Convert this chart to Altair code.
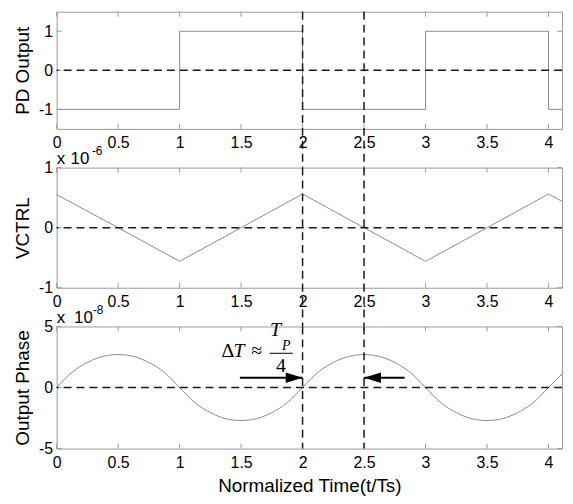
import altair as alt
import pandas as pd

# ---------------- data ----------------
# PD output: step values (step-after)
t_pd = [0, 1, 2, 3, 4, 4.11]
pd_out = [-1, 1, -1, 1, -1, -1]

# VCTRL (units of 1e-6)
t_vc = [0, 0.5, 1, 1.5, 2, 2.5, 3, 3.5, 4, 4.11]
vctrl_e6 = [0.55, 0.0, -0.56, 0.0, 0.56, 0.0, -0.56, 0.0, 0.56, 0.44]

# Output phase (units of 1e-8)
t_ph = [0, 0.125, 0.25, 0.375, 0.5, 0.625, 0.75, 0.875,
        1, 1.125, 1.25, 1.375, 1.5, 1.625, 1.75, 1.875,
        2, 2.125, 2.25, 2.375, 2.5, 2.625, 2.75, 2.875,
        3, 3.125, 3.25, 3.375, 3.5, 3.625, 3.75, 3.875,
        4, 4.11]
phase_e8 = [0, 1.25, 2.05, 2.55, 2.7, 2.55, 2.05, 1.25,
            0, -1.25, -2.05, -2.55, -2.7, -2.55, -2.05, -1.25,
            0, 1.25, 2.05, 2.55, 2.7, 2.55, 2.05, 1.25,
            0, -1.25, -2.05, -2.55, -2.7, -2.55, -2.05, -1.25,
            0, 1.1]

x_ticks = [0, 0.5, 1, 1.5, 2, 2.5, 3, 3.5, 4]
marker_t = [2, 2.5]

# arrows in the bottom panel (units of 1e-8)
arrow_x0 = [1.49, 2.83]
arrow_x1 = [2.0, 2.5]
arrow_y = [0.8, 0.8]

# ---------------- style ----------------
W = 509
H1, H2, H3 = 118, 121, 123
SP = 39
FONT = "Liberation Sans"
SERIF = "Liberation Serif"
GRAY = "#8a8a8a"
BOX = "#9a9a9a"
DASH = [8, 5]
XDOM = [0, 4.11]


def xaxis(title=None):
    kw = dict(values=x_ticks, labelExpr="'' + datum.value", ticks=False, domain=False,
              grid=False, labelPadding=6, labelFont=FONT, labelFontSize=16,
              labelColor="#000", labelFlush=False, labelOverlap=False)
    if title:
        kw.update(title=title, titleFont=FONT, titleFontSize=19, titleFontWeight="normal",
                  titleColor="#000", titleY=43, titleX=W / 2, titleBaseline="alphabetic",
                  titleAlign="center")
    else:
        kw.update(title="")
    return alt.Axis(**kw)


def yaxis(title, yticks, h):
    return alt.Axis(values=yticks, labelExpr="'' + datum.value", ticks=False, domain=False,
                    grid=False, labelPadding=4, labelFont=FONT, labelFontSize=16,
                    labelColor="#000", labelOverlap=False,
                    title=title, titleFont=FONT, titleFontSize=19, titleFontWeight="normal",
                    titleColor="#000", titleX=-34, titleY=h / 2, titleAngle=270,
                    titleBaseline="middle", titleAlign="center")


def one():
    return alt.Chart(pd.DataFrame({"d": [0]}))


def text(s, x, y, size=16, font=FONT, style="normal"):
    return one().mark_text(text=s, align="left", baseline="alphabetic", font=font,
                           fontSize=size, fontStyle=style, color="#000").encode(
        x=alt.value(x), y=alt.value(y))


def panel(df, ycol, ydom, yticks, ytitle, h, ext, interp, xtitle=None, extras=()):
    xs = alt.Scale(domain=XDOM, nice=False, zero=False)
    ys = alt.Scale(domain=ydom, nice=False, zero=False)
    line = alt.Chart(df).mark_line(color=GRAY, strokeWidth=1, interpolate=interp).encode(
        x=alt.X("t:Q", scale=xs, axis=xaxis(xtitle)),
        y=alt.Y(f"{ycol}:Q", scale=ys, axis=yaxis(ytitle, yticks, h)),
    )
    xt = pd.DataFrame({"t": x_ticks})
    yt = pd.DataFrame({"v": yticks})
    tick_top = alt.Chart(xt).mark_rule(color=BOX, strokeWidth=1).encode(
        x=alt.X("t:Q", scale=xs), y=alt.value(0), y2=alt.value(5))
    tick_bot = alt.Chart(xt).mark_rule(color=BOX, strokeWidth=1).encode(
        x=alt.X("t:Q", scale=xs), y=alt.value(h), y2=alt.value(h - 5))
    tick_l = alt.Chart(yt).mark_rule(color=BOX, strokeWidth=1).encode(
        y=alt.Y("v:Q", scale=ys), x=alt.value(0), x2=alt.value(5))
    tick_r = alt.Chart(yt).mark_rule(color=BOX, strokeWidth=1).encode(
        y=alt.Y("v:Q", scale=ys), x=alt.value(W), x2=alt.value(W - 5))
    zero = alt.Chart(pd.DataFrame({"v": [0]})).mark_rule(
        color="#1a1a1a", strokeWidth=1.5, strokeDash=DASH).encode(
        y=alt.Y("v:Q", scale=ys))
    vr = alt.Chart(pd.DataFrame({"t": marker_t})).mark_rule(
        color="#1a1a1a", strokeWidth=1.5, strokeDash=DASH).encode(
        x=alt.X("t:Q", scale=xs), y=alt.value(0), y2=alt.value(h + ext))
    return alt.layer(line, tick_top, tick_bot, tick_l, tick_r, zero, vr, *extras).properties(
        width=W, height=h)


df1 = pd.DataFrame({"t": t_pd, "v": pd_out})
df2 = pd.DataFrame({"t": t_vc, "v": vctrl_e6})
df3 = pd.DataFrame({"t": t_ph, "v": phase_e8})

p1 = panel(df1, "v", [-1.5, 1.5], [-1, 0, 1], "PD Output", H1, SP, "step-after")

exp2 = [text("x", 0, -3.5, 17), text("10", 14, -3.5, 17), text("-6", 35.5, -12.5, 12)]
p2 = panel(df2, "v", [-1, 1], [-1, 0, 1], "VCTRL", H2, SP, "linear", extras=exp2)

xs3 = alt.Scale(domain=XDOM, nice=False, zero=False)
ys3 = alt.Scale(domain=[-5, 5], nice=False, zero=False)
adf = pd.DataFrame({"t": arrow_x0, "t2": arrow_x1, "v": arrow_y})
arrow_lines = alt.Chart(adf).mark_rule(color="#000", strokeWidth=2).encode(
    x=alt.X("t:Q", scale=xs3), x2="t2:Q",
    y=alt.Y("v:Q", scale=ys3))
head_df_r = pd.DataFrame({"t": arrow_x1[:1], "v": arrow_y[:1]})
head_df_l = pd.DataFrame({"t": arrow_x1[1:], "v": arrow_y[1:]})
head_r = alt.Chart(head_df_r).mark_point(
    shape="M0,0 L-2,-0.62 L-2,0.62 Z", filled=True, color="#000", opacity=1, size=289).encode(
    x=alt.X("t:Q", scale=xs3), y=alt.Y("v:Q", scale=ys3))
head_l = alt.Chart(head_df_l).mark_point(
    shape="M0,0 L2,-0.62 L2,0.62 Z", filled=True, color="#000", opacity=1, size=289).encode(
    x=alt.X("t:Q", scale=xs3), y=alt.Y("v:Q", scale=ys3))
frac_bar = one().mark_rule(color="#000", strokeWidth=1).encode(
    x=alt.value(214.5), x2=alt.value(238), y=alt.value(27))
extras3 = [
    text("x", 0, -3.8, 17), text("10", 17.5, -3.8, 17), text("-8", 36.5, -12.8, 12),
    text("Δ", 166, 31, 20, SERIF), text("T", 178, 31, 20, SERIF, "italic"),
    text("≈", 196, 31, 20, SERIF),
    text("T", 215, 10, 20, SERIF, "italic"), text("P", 227, 24, 14, SERIF, "italic"),
    frac_bar, text("4", 221, 46, 20, SERIF),
    arrow_lines, head_r, head_l,
]
p3 = panel(df3, "v", [-5, 5], [-5, 0, 5], "Output Phase", H3, 0, "monotone",
           xtitle="Normalized Time(t/Ts)", extras=extras3)

chart = alt.vconcat(p1, p2, p3, spacing=SP, bounds="flush").properties(
    padding={"left": 5, "top": 0, "right": 0, "bottom": 0},
    background="white",
).configure_view(stroke=BOX, strokeWidth=1)

chart.save("out.html", embed_options={"renderer": "svg", "actions": False})
